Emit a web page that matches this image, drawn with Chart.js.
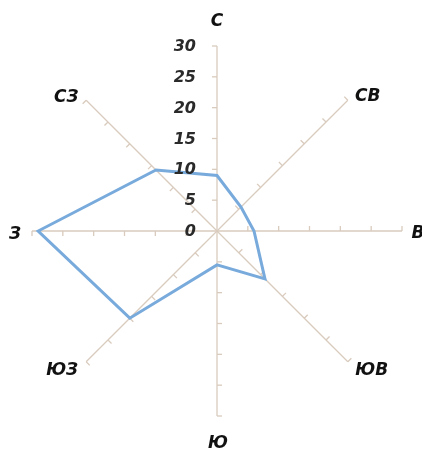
<!DOCTYPE html>
<html>
<head>
<meta charset="utf-8">
<script src="https://cdn.jsdelivr.net/npm/chart.js@4/dist/chart.umd.min.js"></script>
<style>
  html, body { margin: 0; padding: 0; background: #ffffff; }
  #wrap { position: relative; width: 422px; height: 451px; }
</style>
</head>
<body>
<div id="wrap"><canvas id="rose"></canvas></div>
<script>
// Wind directions, clockwise from north
const directions = ['С', 'СВ', 'В', 'ЮВ', 'Ю', 'ЮЗ', 'З', 'СЗ'];
// Repeatability per direction
const windValues = [9, 5.5, 6, 11, 5.5, 20, 29, 14];
// Radial scale tick labels
const tickValues = [0, 5, 10, 15, 20, 25, 30];

const AXIS_COLOR = '#d9cbbd';
const LINE_COLOR = '#78aadc';
const FONT_FAMILY = '"DejaVu Sans", sans-serif';

// Label placement around each axis end: [dx, dy] from the end of the axis
const LABEL_SHIFT = [[0, -24], [20, -4], [16, 3], [24, 9], [1, 28], [-24, 9], [-17, 4], [-20, -3]];

const roseDecor = {
  id: 'roseDecor',
  beforeDatasetsDraw(chart) {
    const r = chart.scales.r;
    const ctx = chart.ctx;
    ctx.save();
    ctx.strokeStyle = AXIS_COLOR;
    ctx.lineWidth = 1.3;
    // small tick marks along every axis, on its counter-clockwise side
    directions.forEach((_, i) => {
      const a = r.getIndexAngle(i) - Math.PI / 2;
      const px = Math.sin(a), py = -Math.cos(a);
      tickValues.forEach(v => {
        if (v === 0) return;
        const p = r.getPointPositionForValue(i, v);
        ctx.beginPath();
        ctx.moveTo(p.x, p.y);
        ctx.lineTo(p.x + px * 5, p.y + py * 5);
        ctx.stroke();
      });
    });
    ctx.restore();
  },
  afterDraw(chart) {
    const r = chart.scales.r;
    const ctx = chart.ctx;
    ctx.save();
    // value labels to the left of the north axis
    ctx.font = 'italic bold 16px ' + FONT_FAMILY;
    ctx.fillStyle = '#2a2a2a';
    ctx.textAlign = 'right';
    ctx.textBaseline = 'middle';
    tickValues.forEach(v => {
      const p = r.getPointPositionForValue(0, v);
      ctx.fillText(String(v), r.xCenter - 21, p.y + 1);
    });
    // direction names
    ctx.font = 'italic bold 17px ' + FONT_FAMILY;
    ctx.fillStyle = '#111111';
    ctx.textAlign = 'center';
    directions.forEach((name, i) => {
      const p = r.getPointPositionForValue(i, r.max);
      const s = LABEL_SHIFT[i];
      ctx.fillText(name, p.x + s[0], p.y + s[1]);
    });
    ctx.restore();
  }
};

new Chart(document.getElementById('rose'), {
  type: 'radar',
  data: {
    labels: directions,
    datasets: [{
      data: windValues,
      borderColor: LINE_COLOR,
      borderWidth: 3,
      backgroundColor: 'rgba(0,0,0,0)',
      fill: false,
      pointRadius: 0,
      pointHoverRadius: 0,
      tension: 0
    }]
  },
  options: {
    responsive: true,
    maintainAspectRatio: false,
    animation: false,
    events: [],
    layout: { padding: { left: 32, right: 20, top: 46, bottom: 35 } },
    plugins: { legend: { display: false }, tooltip: { enabled: false } },
    scales: {
      r: {
        min: 0,
        max: 30,
        ticks: { stepSize: 5, display: false },
        grid: { display: false },
        angleLines: { display: true, color: AXIS_COLOR, lineWidth: 1.3 },
        pointLabels: { display: false }
      }
    }
  },
  plugins: [roseDecor]
});
</script>
</body>
</html>
